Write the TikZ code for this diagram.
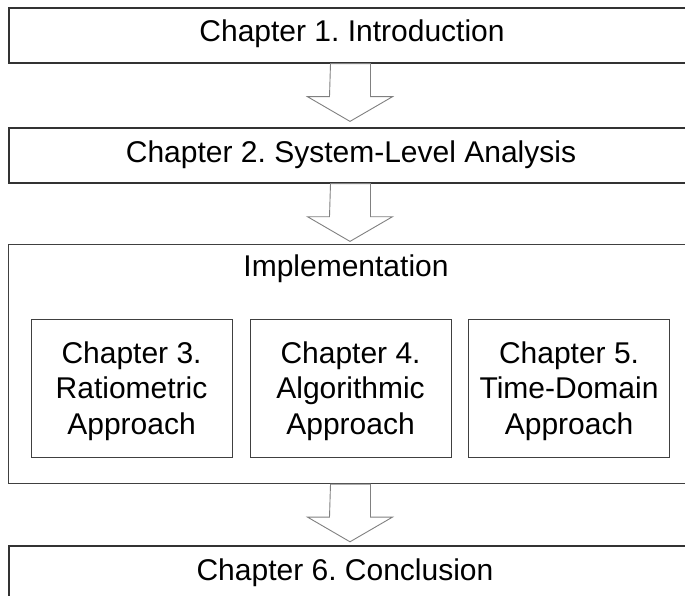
\documentclass[tikz,border=0pt]{standalone}
\usepackage{fontspec}
\setmainfont{Liberation Sans}
\frenchspacing
\begin{document}
\begin{tikzpicture}[x=1pt,y=-1pt,
  outerbox/.style={draw=black!80, line width=1.7pt, inner sep=0pt, anchor=north west},
  groupbox/.style={draw=black!75, line width=1.1pt, inner sep=0pt, anchor=north west},
  innerbox/.style={draw=black!75, line width=1.1pt, inner sep=0pt, anchor=north west,
     minimum width=201pt, minimum height=138pt},
  innertxt/.style={align=center, inner sep=0pt, font=\fontsize{30}{35.5}\selectfont},
  lbl/.style={font=\fontsize{30}{36}\selectfont, inner sep=0pt},
  blockarrow/.style={draw=black!50, line width=0.9pt, line join=miter, fill=white}]
\useasboundingbox (0,0) rectangle (685,596);
\clip (0,0) rectangle (685,596);
% main boxes (open on the right / bottom, cropped by the page)
\node[outerbox, minimum width=720pt, minimum height=55pt] (c1) at (8,7) {};
\node[outerbox, minimum width=720pt, minimum height=55pt] (c2) at (8,127) {};
\node[groupbox, minimum width=720pt, minimum height=239pt] (impl) at (8,244) {};
\node[outerbox, minimum width=720pt, minimum height=80pt] (c6) at (8,545) {};
% texts
\node[lbl] (t1) at (352,34) {Chapter 1. Introduction};
\node[lbl] (t2) at (351,155) {Chapter 2. System-Level Analysis};
\node[lbl] (ti) at (346,269) {Implementation};
\node[lbl] (t6) at (345,573) {Chapter 6. Conclusion};
% inner boxes
\node[innerbox] (c3) at (30.5,319) {};
\node[innerbox] (c4) at (249.5,319) {};
\node[innerbox] (c5) at (468,319) {};
\node[innertxt] (c3t) at ([yshift=-2.5pt]c3.center) {Chapter 3.\\Ratiometric\\Approach};
\node[innertxt] (c4t) at ([yshift=-2.5pt]c4.center) {Chapter 4.\\Algorithmic\\Approach};
\node[innertxt] (c5t) at ([yshift=-2.5pt]c5.center) {Chapter 5.\\Time-Domain\\Approach};
% block arrows
\coordinate (a1) at (350.5,0 |- c1.south);
\coordinate (a2) at (350.5,0 |- c2.south);
\coordinate (a3) at (350.5,0 |- impl.south);
\foreach \a in {a1,a2,a3}{
  \draw[blockarrow] (\a) ++(-20,0) -- ++(40,0) -- ++(0,33) -- ++(22,0)
     -- ++(-42.5,24.7) -- ++(-42.5,-24.7) -- ++(22,0) -- cycle;
}
\end{tikzpicture}
\end{document}
